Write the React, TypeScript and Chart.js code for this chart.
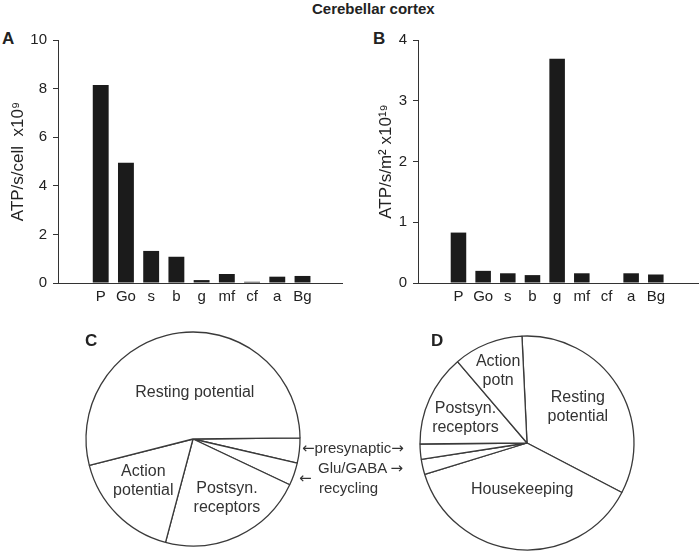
import React, { useEffect, useRef } from 'react';
import { Chart, registerables } from 'chart.js';

Chart.register(...registerables);

// ---------- data ----------
const CATEGORIES = ['P', 'Go', 's', 'b', 'g', 'mf', 'cf', 'a', 'Bg'];
const ATP_PER_CELL = [8.15, 4.95, 1.32, 1.08, 0.12, 0.37, 0.05, 0.26, 0.29];
const ATP_PER_AREA = [0.83, 0.2, 0.16, 0.13, 3.69, 0.16, 0, 0.16, 0.14];
const A_TICKS = [0, 2, 4, 6, 8, 10];
const B_TICKS = [0, 1, 2, 3, 4];
const A_TITLE = 'ATP/s/cell  x10⁹';
const B_TITLE = 'ATP/s/m² x10¹⁹';

const PIE_C_NAMES = ['presynaptic', 'Glu/GABA recycling', 'Postsyn. receptors', 'Action potential', 'Resting potential'];
const PIE_C_VALUES = [3.8, 3.4, 22.1, 16.9, 53.8];
const PIE_C_TEXT = [[], [], ['Postsyn.', 'receptors'], ['Action', 'potential'], ['Resting potential']];

const PIE_D_NAMES = ['Resting potential', 'Housekeeping', 'Glu/GABA recycling', 'presynaptic', 'Postsyn. receptors', 'Action potn'];
const PIE_D_VALUES = [33.4, 37.6, 2.3, 2.3, 13.9, 10.5];
const PIE_D_TEXT = [['Resting', 'potential'], ['Housekeeping'], [], [], ['Postsyn.', 'receptors'], ['Action', 'potn']];

// label placement inside slices (fraction along slice angle, fraction of radius)
const PIE_C_PLACE = [null, null, { af: 0.44, rf: 0.64 }, { af: 0.57, rf: 0.61 }, { af: 0.55, rf: 0.43 }];
const PIE_D_PLACE = [{ af: 0.48, rf: 0.58 }, { af: 0.505, rf: 0.44 }, null, null, { af: 0.45, rf: 0.62 }, { af: 0.49, rf: 0.72 }];

const FONT = '"Liberation Sans", Arial, Helvetica, sans-serif';
const ARROW_FONT = '"DejaVu Sans", sans-serif';

const pieLabelPlugin = {
  id: 'pieLabels',
  afterDatasetsDraw(chart: any, _args: any, opts: any) {
    const meta = chart.getDatasetMeta(0);
    const ctx = chart.ctx;
    ctx.save();
    ctx.font = `${opts.size}px ${FONT}`;
    ctx.fillStyle = opts.color;
    ctx.textAlign = 'center';
    ctx.textBaseline = 'middle';
    meta.data.forEach((arc: any, i: number) => {
      const L = opts.lines[i];
      const p = opts.place[i];
      if (!L || !L.length || !p) return;
      const { x, y, startAngle, endAngle, outerRadius } = arc.getProps(['x', 'y', 'startAngle', 'endAngle', 'outerRadius'], true);
      const a = startAngle + (endAngle - startAngle) * p.af;
      const r = outerRadius * p.rf;
      const cx = x + Math.cos(a) * r;
      const cy = y + Math.sin(a) * r;
      L.forEach((t: string, k: number) => {
        ctx.fillText(t, cx, cy + (k - (L.length - 1) / 2) * opts.lineHeight);
      });
    });
    ctx.restore();
  },
};

type BarProps = {
  left: number; width: number; height: number; values: number[]; ticks: number[];
  title: string; titlePad: number; axisW: number; rightPad: number; xMin: number; xMax: number;
};

function BarPanel(p: BarProps) {
  const ref = useRef<HTMLCanvasElement>(null);
  useEffect(() => {
    const chart = new Chart(ref.current as HTMLCanvasElement, {
      type: 'bar',
      data: {
        datasets: [{
          data: CATEGORIES.map((_, i) => ({ x: i, y: p.values[i] })),
          backgroundColor: '#1b1b1b',
          borderWidth: 0,
          barPercentage: 0.63,
          categoryPercentage: 1,
        }],
      },
      options: {
        responsive: false,
        maintainAspectRatio: false,
        animation: false,
        layout: { padding: { top: 40, right: p.rightPad, bottom: 0, left: 0 } },
        plugins: { legend: { display: false }, tooltip: { enabled: false } },
        scales: {
          x: {
            type: 'linear',
            min: p.xMin,
            max: p.xMax,
            grid: { display: false, drawTicks: false },
            border: { display: true, color: '#333', width: 1 },
            afterBuildTicks: (s: any) => { s.ticks = CATEGORIES.map((_, i) => ({ value: i })); },
            afterFit: (s: any) => { s.height = p.height - 283; },
            ticks: {
              autoSkip: false, maxRotation: 0, padding: 5, color: '#222',
              font: { family: FONT, size: 15 },
              callback: (v: any) => CATEGORIES[v] ?? '',
            },
          },
          y: {
            min: 0,
            max: p.ticks[p.ticks.length - 1],
            afterBuildTicks: (s: any) => { s.ticks = p.ticks.map((v) => ({ value: v })); },
            afterFit: (s: any) => { s.width = p.axisW; },
            grid: { drawOnChartArea: false, drawTicks: true, tickLength: 5, color: '#333' },
            border: { display: true, color: '#333', width: 1 },
            ticks: { padding: 6, color: '#222', font: { family: FONT, size: 15 } },
            title: {
              display: true, text: p.title, color: '#222',
              font: { family: FONT, size: 17 },
              padding: { top: p.titlePad, bottom: 0 },
            },
          },
        },
      },
    } as any);
    return () => chart.destroy();
  }, []);
  return (
    <canvas ref={ref} width={p.width} height={p.height}
      style={{ position: 'absolute', left: p.left, top: 0, width: p.width, height: p.height }} />
  );
}

type PieProps = {
  left: number; top: number; size: number; radius: number; rotation: number;
  names: string[]; values: number[]; text: string[][]; place: any[];
};

function PiePanel(p: PieProps) {
  const ref = useRef<HTMLCanvasElement>(null);
  useEffect(() => {
    const chart = new Chart(ref.current as HTMLCanvasElement, {
      type: 'pie',
      data: {
        labels: p.names,
        datasets: [{
          data: p.values,
          backgroundColor: '#ffffff',
          borderColor: '#3a3a3a',
          borderWidth: 1.3,
        }],
      },
      options: {
        responsive: false,
        maintainAspectRatio: false,
        animation: false,
        radius: p.radius,
        rotation: p.rotation,
        layout: { padding: 0 },
        plugins: {
          legend: { display: false },
          tooltip: { enabled: false },
          pieLabels: { lines: p.text, place: p.place, size: 16, lineHeight: 19, color: '#333' },
        },
      },
      plugins: [pieLabelPlugin],
    } as any);
    return () => chart.destroy();
  }, []);
  return (
    <canvas ref={ref} width={p.size} height={p.size}
      style={{ position: 'absolute', left: p.left, top: p.top, width: p.size, height: p.size }} />
  );
}

const txt = (left: number, top: number, size: number, bold = false): React.CSSProperties => ({
  position: 'absolute', left, top, fontSize: size, lineHeight: '18px',
  fontWeight: bold ? 700 : 400, color: '#222', whiteSpace: 'nowrap',
});

const arrow: React.CSSProperties = { fontFamily: ARROW_FONT, fontSize: 15 };

export default function App() {
  return (
    <div style={{ position: 'absolute', left: 0, top: 0, width: 700, height: 551, overflow: 'hidden', background: '#fff', fontFamily: FONT }}>
      <div style={txt(312, 0, 15, true)}>Cerebellar cortex</div>
      <div style={txt(2, 30, 17, true)}>A</div>
      <div style={txt(373, 30, 17, true)}>B</div>
      <BarPanel left={0} width={350} height={310} values={ATP_PER_CELL} ticks={A_TICKS}
        title={A_TITLE} titlePad={8} axisW={58} rightPad={8} xMin={-1.068} xMax={8.94} />
      <BarPanel left={350} width={350} height={310} values={ATP_PER_AREA} ticks={B_TICKS}
        title={B_TITLE} titlePad={26} axisW={68} rightPad={2} xMin={-1.01} xMax={9.08} />
      <PiePanel left={78} top={324} size={230} radius={107} rotation={89.4}
        names={PIE_C_NAMES} values={PIE_C_VALUES} text={PIE_C_TEXT} place={PIE_C_PLACE} />
      <PiePanel left={412} top={328} size={230} radius={107} rotation={-2.7}
        names={PIE_D_NAMES} values={PIE_D_VALUES} text={PIE_D_TEXT} place={PIE_D_PLACE} />
      <div style={txt(85, 332, 17, true)}>C</div>
      <div style={txt(431, 332, 17, true)}>D</div>
      <div style={{ ...txt(302, 439, 15), color: '#333' }}>
        <span style={arrow}>←</span>presynaptic<span style={arrow}>→</span>
      </div>
      <div style={{ ...txt(318, 459, 15), color: '#333' }}>Glu/GABA <span style={arrow}>→</span></div>
      <div style={{ ...txt(299, 469, 15), color: '#333' }}><span style={arrow}>←</span></div>
      <div style={{ ...txt(319, 479, 15), color: '#333' }}>recycling</div>
    </div>
  );
}
